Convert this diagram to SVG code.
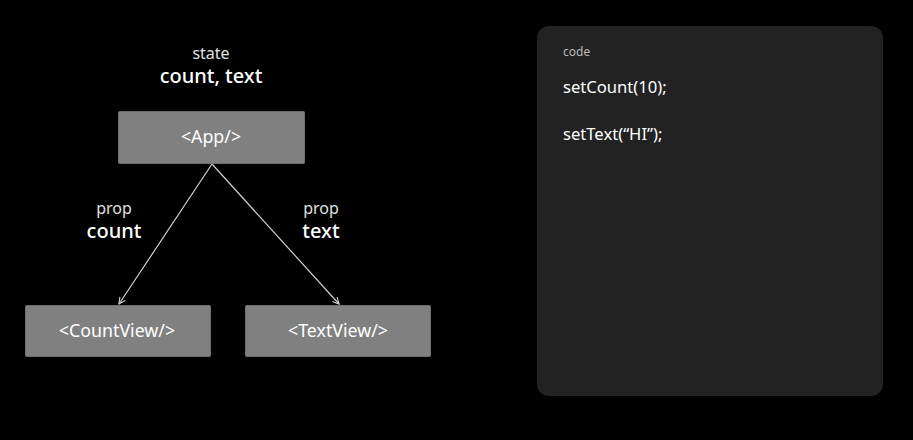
<svg xmlns="http://www.w3.org/2000/svg" width="913" height="440" viewBox="0 0 913 440">
<defs>
<style>
text{font-family:"Noto Sans","Open Sans","Liberation Sans",sans-serif;}
.box{fill:#808080;stroke:#6e6e6e;stroke-width:1;}
.lbl{fill:#ffffff;font-size:17.8px;text-anchor:middle;}
.small{fill:#e0e0e0;font-size:16px;text-anchor:middle;}
.big{fill:#ffffff;font-size:20px;font-weight:500;text-anchor:middle;}
.code{fill:#ffffff;font-size:16.6px;}
.edge{stroke:#d0d0d0;stroke-width:1.2;fill:none;}
</style>
<marker id="arr" viewBox="0 0 10 10" refX="9" refY="5" markerWidth="8" markerHeight="8" orient="auto" markerUnits="userSpaceOnUse">
<path d="M1,1 L9,5 L1,9" fill="none" stroke="#d0d0d0" stroke-width="1.4"/>
</marker>
</defs>
<rect width="913" height="440" fill="#000000"/>
<g id="state-label">
<text class="small" x="211" y="59">state</text>
<text class="big" x="211" y="83">count, text</text>
</g>
<g id="connectors">
<line class="edge" x1="212" y1="164" x2="119" y2="304" marker-end="url(#arr)"/>
<line class="edge" x1="212" y1="164" x2="339" y2="304" marker-end="url(#arr)"/>
<text class="small" x="114" y="214">prop</text>
<text class="big" x="114" y="238">count</text>
<text class="small" x="321" y="214">prop</text>
<text class="big" x="321" y="238">text</text>
</g>
<g id="app">
<rect class="box" x="118.5" y="111.5" width="186" height="52" rx="1"/>
<text class="lbl" x="211" y="143">&lt;App/&gt;</text>
</g>
<g id="countview">
<rect class="box" x="25.5" y="305.5" width="185" height="51" rx="1"/>
<text class="lbl" x="117" y="337">&lt;CountView/&gt;</text>
</g>
<g id="textview">
<rect class="box" x="245.5" y="305.5" width="185" height="51" rx="1"/>
<text class="lbl" x="338" y="337">&lt;TextView/&gt;</text>
</g>
<g id="code-panel">
<rect x="537" y="26" width="346" height="370" rx="12" fill="#222222"/>
<text x="563" y="56" fill="#bbbbbb" font-size="12">code</text>
<text class="code" x="563" y="93">setCount(10);</text>
<text class="code" x="563" y="140">setText(“HI”);</text>
</g>
</svg>
